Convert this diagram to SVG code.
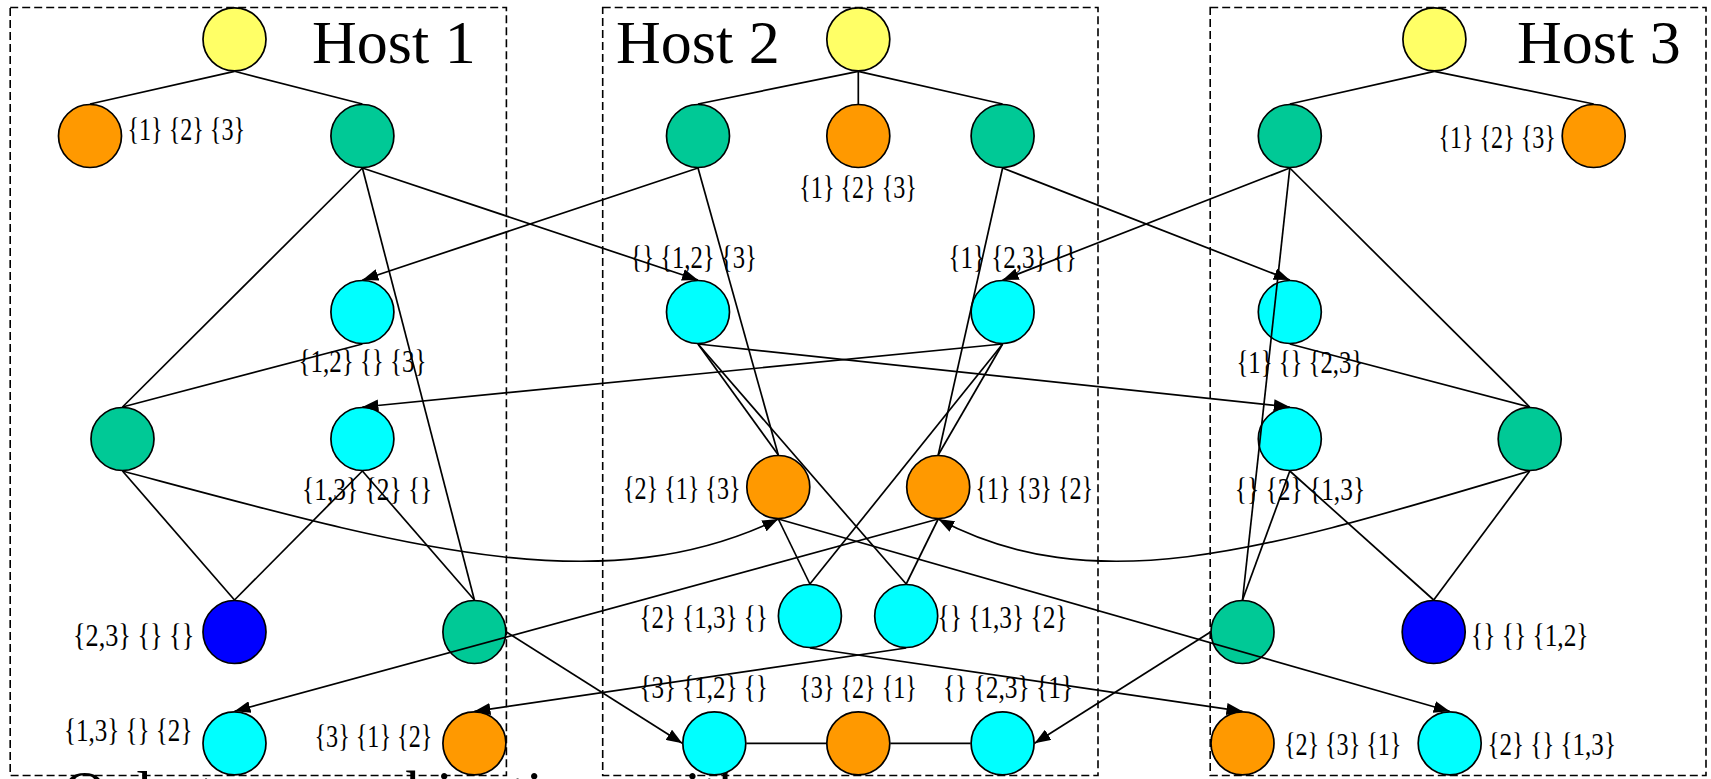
<svg xmlns="http://www.w3.org/2000/svg" width="1711" height="779" viewBox="0 0 1711 779">
  <defs>
    <marker id="ah" viewBox="0 0 16 12" refX="16" refY="6" markerWidth="16" markerHeight="12" markerUnits="userSpaceOnUse" orient="auto">
      <path d="M0,0 L16,6 L0,12 z" fill="#000"/>
    </marker>
  </defs>
  <style>
    .host{fill:none;stroke:#000;stroke-width:1.6;stroke-dasharray:8 4}
    .n{stroke:#000;stroke-width:1.7}
    .y{fill:#FFFF66}.o{fill:#FF9900}.g{fill:#00C996}.c{fill:#00FFFF}.b{fill:#0000FF}
    .e{stroke:#000;stroke-width:1.7;fill:none}
    .a{marker-end:url(#ah)}
    .lbl{font-family:"Liberation Serif","Times New Roman",serif;font-size:32px;fill:#000}
    .title{font-family:"Liberation Serif","Times New Roman",serif;font-size:62px;fill:#000}
    .caption{font-family:"Liberation Serif","Times New Roman",serif;font-size:60px;fill:#000}
  </style>
  <rect width="1711" height="779" fill="#fff"/>

  <!-- caption running below the frame -->
  <text class="caption" x="63" y="812">Only two combinations with</text>

  <!-- host frames -->
  <g id="host1">
    <rect class="host" x="10.2" y="7.5" width="496.2" height="768"/>
    <text class="title" x="312" y="63">Host 1</text>
  </g>
  <g id="host2">
    <rect class="host" x="602.7" y="7.5" width="495.3" height="768"/>
    <text class="title" x="616" y="63">Host 2</text>
  </g>
  <g id="host3">
    <rect class="host" x="1210.2" y="7.5" width="495.8" height="768"/>
    <text class="title" x="1517" y="63">Host 3</text>
  </g>

  <!-- Host 1 nodes -->
  <g id="h1-root"><circle class="n y" cx="234.5" cy="39.3" r="31.5"/></g>
  <g id="h1-o1"><circle class="n o" cx="90" cy="136" r="31.5"/><text class="lbl" x="127.5" y="140" textLength="117.5" lengthAdjust="spacingAndGlyphs">{1} {2} {3}</text></g>
  <g id="h1-g1"><circle class="n g" cx="362.4" cy="136" r="31.5"/></g>
  <g id="h1-c1"><circle class="n c" cx="362.4" cy="312" r="31.5"/><text class="lbl" x="298.5" y="372" textLength="128" lengthAdjust="spacingAndGlyphs">{1,2} {} {3}</text></g>
  <g id="h1-g2"><circle class="n g" cx="122.5" cy="439" r="31.5"/></g>
  <g id="h1-c2"><circle class="n c" cx="362.4" cy="439" r="31.5"/><text class="lbl" x="302" y="500" textLength="130.3" lengthAdjust="spacingAndGlyphs">{1,3} {2} {}</text></g>
  <g id="h1-b"><circle class="n b" cx="234.5" cy="632" r="31.5"/><text class="lbl" x="73" y="645.5" textLength="121.2" lengthAdjust="spacingAndGlyphs">{2,3} {} {}</text></g>
  <g id="h1-g3"><circle class="n g" cx="474.4" cy="632" r="31.5"/></g>
  <g id="h1-c3"><circle class="n c" cx="234.5" cy="743.3" r="31.5"/><text class="lbl" x="64" y="740.5" textLength="128.4" lengthAdjust="spacingAndGlyphs">{1,3} {} {2}</text></g>
  <g id="h1-o2"><circle class="n o" cx="474.4" cy="743.3" r="31.5"/><text class="lbl" x="314.5" y="747" textLength="117.8" lengthAdjust="spacingAndGlyphs">{3} {1} {2}</text></g>

  <!-- Host 2 nodes -->
  <g id="h2-root"><circle class="n y" cx="858.3" cy="39.3" r="31.5"/></g>
  <g id="h2-gl"><circle class="n g" cx="698" cy="136" r="31.5"/></g>
  <g id="h2-o1"><circle class="n o" cx="858.3" cy="136" r="31.5"/><text class="lbl" x="799.3" y="198" textLength="117.5" lengthAdjust="spacingAndGlyphs">{1} {2} {3}</text></g>
  <g id="h2-gr"><circle class="n g" cx="1002.6" cy="136" r="31.5"/></g>
  <g id="h2-cl"><circle class="n c" cx="698" cy="312" r="31.5"/><text class="lbl" x="630.3" y="268" textLength="126.6" lengthAdjust="spacingAndGlyphs">{} {1,2} {3}</text></g>
  <g id="h2-cr"><circle class="n c" cx="1002.6" cy="312" r="31.5"/><text class="lbl" x="948.4" y="268" textLength="128.4" lengthAdjust="spacingAndGlyphs">{1} {2,3} {}</text></g>
  <g id="h2-ol"><circle class="n o" cx="778.3" cy="487" r="31.5"/><text class="lbl" x="623" y="499" textLength="117.5" lengthAdjust="spacingAndGlyphs">{2} {1} {3}</text></g>
  <g id="h2-or"><circle class="n o" cx="938.2" cy="487" r="31.5"/><text class="lbl" x="975.5" y="499" textLength="117.6" lengthAdjust="spacingAndGlyphs">{1} {3} {2}</text></g>
  <g id="h2-cml"><circle class="n c" cx="809.9" cy="616" r="31.5"/><text class="lbl" x="639.4" y="628" textLength="128.4" lengthAdjust="spacingAndGlyphs">{2} {1,3} {}</text></g>
  <g id="h2-cmr"><circle class="n c" cx="906.2" cy="616" r="31.5"/><text class="lbl" x="937.5" y="628" textLength="130" lengthAdjust="spacingAndGlyphs">{} {1,3} {2}</text></g>
  <g id="h2-cbl"><circle class="n c" cx="714.3" cy="743.3" r="31.5"/><text class="lbl" x="639.4" y="698" textLength="128.4" lengthAdjust="spacingAndGlyphs">{3} {1,2} {}</text></g>
  <g id="h2-ob"><circle class="n o" cx="858.3" cy="743.3" r="31.5"/><text class="lbl" x="799.3" y="698" textLength="117.5" lengthAdjust="spacingAndGlyphs">{3} {2} {1}</text></g>
  <g id="h2-cbr"><circle class="n c" cx="1002.6" cy="743.3" r="31.5"/><text class="lbl" x="942.9" y="698" textLength="130.2" lengthAdjust="spacingAndGlyphs">{} {2,3} {1}</text></g>

  <!-- Host 3 nodes -->
  <g id="h3-root"><circle class="n y" cx="1434.4" cy="39.3" r="31.5"/></g>
  <g id="h3-g1"><circle class="n g" cx="1289.8" cy="136" r="31.5"/></g>
  <g id="h3-o1"><circle class="n o" cx="1593.7" cy="136" r="31.5"/><text class="lbl" x="1438.4" y="148" textLength="117.5" lengthAdjust="spacingAndGlyphs">{1} {2} {3}</text></g>
  <g id="h3-c1"><circle class="n c" cx="1289.8" cy="312" r="31.5"/><text class="lbl" x="1236.5" y="373" textLength="126.7" lengthAdjust="spacingAndGlyphs">{1} {} {2,3}</text></g>
  <g id="h3-c2"><circle class="n c" cx="1289.8" cy="439" r="31.5"/><text class="lbl" x="1234.8" y="500" textLength="130.3" lengthAdjust="spacingAndGlyphs">{} {2} {1,3}</text></g>
  <g id="h3-g2"><circle class="n g" cx="1529.7" cy="439" r="31.5"/></g>
  <g id="h3-g3"><circle class="n g" cx="1242.5" cy="632" r="31.5"/></g>
  <g id="h3-b"><circle class="n b" cx="1433.7" cy="632" r="31.5"/><text class="lbl" x="1471.1" y="645.5" textLength="117.4" lengthAdjust="spacingAndGlyphs">{} {} {1,2}</text></g>
  <g id="h3-o2"><circle class="n o" cx="1242.5" cy="743.3" r="31.5"/><text class="lbl" x="1283.9" y="755" textLength="117.5" lengthAdjust="spacingAndGlyphs">{2} {3} {1}</text></g>
  <g id="h3-c3"><circle class="n c" cx="1449.7" cy="743.3" r="31.5"/><text class="lbl" x="1487.5" y="755" textLength="128.4" lengthAdjust="spacingAndGlyphs">{2} {} {1,3}</text></g>

  <!-- connectors -->
  <g id="connectors">
    <!-- tree edges inside Host 1 -->
    <line class="e" x1="234.5" y1="71.3" x2="90" y2="104"/>
    <line class="e" x1="234.5" y1="71.3" x2="362.4" y2="104"/>
    <line class="e" x1="362.4" y1="168" x2="122.5" y2="407"/>
    <line class="e" x1="362.4" y1="168" x2="474.4" y2="600"/>
    <line class="e" x1="362.4" y1="344" x2="122.5" y2="407"/>
    <line class="e" x1="122.5" y1="471" x2="234.5" y2="600"/>
    <line class="e" x1="362.4" y1="471" x2="234.5" y2="600"/>
    <line class="e" x1="362.4" y1="471" x2="474.4" y2="600"/>
    <!-- tree edges inside Host 2 -->
    <line class="e" x1="858.3" y1="71.3" x2="698" y2="104"/>
    <line class="e" x1="858.3" y1="71.3" x2="858.3" y2="104"/>
    <line class="e" x1="858.3" y1="71.3" x2="1002.6" y2="104"/>
    <line class="e" x1="698" y1="168" x2="778.3" y2="455"/>
    <line class="e" x1="1002.6" y1="168" x2="938.2" y2="455"/>
    <line class="e" x1="698" y1="344" x2="778.3" y2="455"/>
    <line class="e" x1="698" y1="344" x2="906.2" y2="584"/>
    <line class="e" x1="1002.6" y1="344" x2="938.2" y2="455"/>
    <line class="e" x1="1002.6" y1="344" x2="809.9" y2="584"/>
    <line class="e" x1="778.3" y1="519" x2="809.9" y2="584"/>
    <line class="e" x1="938.2" y1="519" x2="906.2" y2="584"/>
    <line class="e" x1="746.3" y1="743.3" x2="826.3" y2="743.3"/>
    <line class="e" x1="890.3" y1="743.3" x2="970.6" y2="743.3"/>
    <!-- tree edges inside Host 3 -->
    <line class="e" x1="1434.4" y1="71.3" x2="1289.8" y2="104"/>
    <line class="e" x1="1434.4" y1="71.3" x2="1593.7" y2="104"/>
    <line class="e" x1="1289.8" y1="168" x2="1242.5" y2="600"/>
    <line class="e" x1="1289.8" y1="168" x2="1529.7" y2="407"/>
    <line class="e" x1="1289.8" y1="344" x2="1529.7" y2="407"/>
    <line class="e" x1="1289.8" y1="471" x2="1242.5" y2="600"/>
    <line class="e" x1="1289.8" y1="471" x2="1433.7" y2="600"/>
    <line class="e" x1="1529.7" y1="471" x2="1433.7" y2="600"/>
    <!-- messages between hosts -->
    <line class="e a" x1="362.4" y1="168" x2="698" y2="280"/>
    <line class="e a" x1="698" y1="168" x2="362.4" y2="280"/>
    <line class="e a" x1="1002.6" y1="168" x2="1289.8" y2="280"/>
    <line class="e a" x1="1289.8" y1="168" x2="1002.6" y2="280"/>
    <line class="e a" x1="698" y1="344" x2="1289.8" y2="407"/>
    <line class="e a" x1="1002.6" y1="344" x2="362.4" y2="407"/>
    <path class="e a" d="M122.5,471 C400,545 600,605 778.3,519"/>
    <path class="e a" d="M1529.7,471 C1279.4,545 1099,605 938.2,519"/>
    <line class="e a" x1="938.2" y1="519" x2="234.5" y2="711.3"/>
    <line class="e a" x1="906.2" y1="648" x2="474.4" y2="711.3"/>
    <line class="e a" x1="809.9" y1="648" x2="1242.5" y2="711.3"/>
    <line class="e a" x1="778.3" y1="519" x2="1449.7" y2="711.3"/>
    <line class="e a" x1="506.4" y1="632" x2="682.3" y2="743.3"/>
    <line class="e a" x1="1210.5" y1="632" x2="1034.6" y2="743.3"/>
  </g>
</svg>
